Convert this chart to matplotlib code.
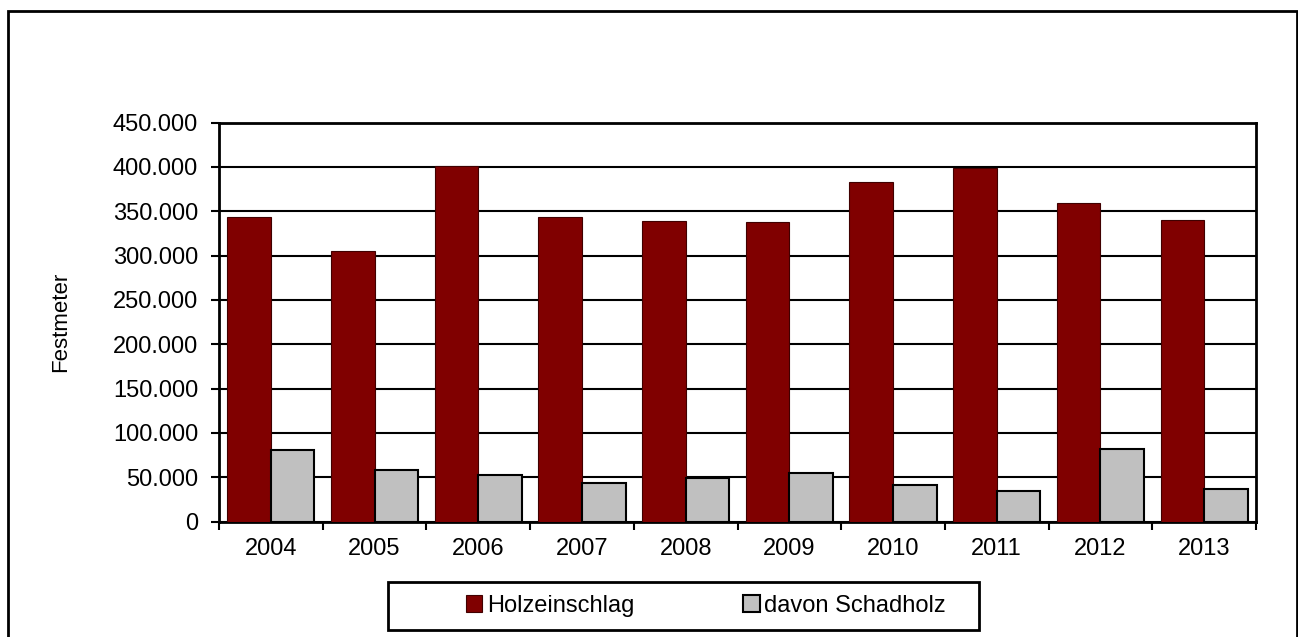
import matplotlib.pyplot as plt
import matplotlib.patches as patches
from matplotlib.ticker import FuncFormatter, FixedLocator
import numpy as np

plt.rcParams['font.family'] = ['Liberation Sans', 'DejaVu Sans']

years = ["2004", "2005", "2006", "2007", "2008", "2009", "2010", "2011", "2012", "2013"]
holzeinschlag = [344000, 305000, 401000, 343000, 339000, 338000, 383000, 399000, 359000, 340000]
schadholz = [81000, 58000, 53000, 44000, 49000, 55000, 41000, 35000, 81500, 36500]

fig = plt.figure(figsize=(12.98, 6.37), dpi=100)

# outer chart border
fig.patches.append(patches.Rectangle((8/1298, -0.02), 1289/1298, 0.02 + 626/637,
                                     transform=fig.transFigure, fill=False,
                                     edgecolor='black', linewidth=2))

ax = fig.add_axes([219/1298, (637-521.7)/637, 1037/1298, 399.2/637])

x = np.arange(len(years))
w = 0.42
ax.bar(x - w/2, holzeinschlag, w, color='#800000', edgecolor='#400000', linewidth=0.8,
       label='Holzeinschlag', zorder=3)
ax.bar(x + w/2, schadholz, w, color='#C0C0C0', edgecolor='black', linewidth=1.5,
       label='davon Schadholz', zorder=3)

ax.set_xlim(-0.5, len(years) - 0.5)
ax.set_ylim(0, 450000)
ax.set_yticks(np.arange(0, 450001, 50000))
ax.yaxis.set_major_formatter(FuncFormatter(lambda v, p: f"{int(v):,}".replace(",", ".")))
ax.yaxis.grid(True, color='black', linewidth=1.5)
ax.set_axisbelow(True)

ax.xaxis.set_major_locator(FixedLocator(np.arange(-0.5, len(years), 1)))
ax.xaxis.set_major_formatter(FuncFormatter(lambda v, p: ""))
ax.set_xticks(x, minor=True)
ax.set_xticklabels(years, minor=True)
ax.tick_params(axis='x', which='minor', length=0, labelsize=17, pad=12)
ax.tick_params(axis='x', which='major', length=6, width=1.5, direction='out')
ax.tick_params(axis='y', length=6, width=1.5, direction='out', labelsize=17, pad=9)

for s in ax.spines.values():
    s.set_linewidth(2)
    s.set_color('black')

ax.set_ylabel('Festmeter', fontsize=16, labelpad=30)

# legend box
fig.patches.append(patches.Rectangle((388/1298, (637-630)/637), 591/1298, 48/637,
                                     transform=fig.transFigure, fill=False,
                                     edgecolor='black', linewidth=2))
fig.legend(loc='center', bbox_to_anchor=(706/1298, (637-606)/637), ncol=2, frameon=False,
           fontsize=17, handlelength=0.7, handleheight=0.7, handletextpad=0.2,
           columnspacing=4.6)

fig.savefig('out.png', dpi=100)
